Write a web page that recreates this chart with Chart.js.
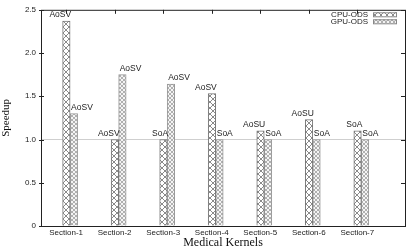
<!DOCTYPE html>
<html>
<head>
<meta charset="utf-8">
<script src="https://cdn.jsdelivr.net/npm/chart.js@4"></script>
<style>
  html, body { margin: 0; padding: 0; background: #fff; }
  #wrap { width: 415px; height: 249px; }
</style>
</head>
<body>
<div id="wrap"><canvas id="speedChart" width="415" height="249"></canvas></div>
<script>
const sections = ['Section-1', 'Section-2', 'Section-3', 'Section-4', 'Section-5', 'Section-6', 'Section-7'];
const cpuSpeedup = [2.37, 1.0, 1.0, 1.53, 1.1, 1.23, 1.1];
const gpuSpeedup = [1.3, 1.75, 1.64, 1.0, 1.0, 1.0, 1.0];
const cpuLayout = ['AoSV', 'AoSV', 'SoA', 'AoSV', 'AoSU', 'AoSU', 'SoA'];
const gpuLayout = ['AoSV', 'AoSV', 'AoSV', 'SoA', 'SoA', 'SoA', 'SoA'];
const yTicks = [0, 0.5, 1, 1.5, 2, 2.5];

const LABEL_SHIFT = -4; // tick labels sit a little left of the bar pairs

// hatch patterns, roughly like the gnuplot fill styles
function makeHatch(size, color, bg) {
    const c = document.createElement('canvas');
    c.width = size; c.height = size;
    const g = c.getContext('2d');
    g.fillStyle = bg;
    g.fillRect(0, 0, size, size);
    g.strokeStyle = color;
    g.lineWidth = 1;
    g.beginPath();
    g.moveTo(0, 0); g.lineTo(size, size);
    g.moveTo(size, 0); g.lineTo(0, size);
    g.stroke();
    return g.createPattern(c, 'repeat');
}
const ctx = document.getElementById('speedChart').getContext('2d');
const cpuFill = makeHatch(6, '#8a8a8a', '#ffffff');
const gpuFill = makeHatch(4, '#b0b0b0', '#f4f4f4');

const toPoints = arr => arr.map((v, i) => ({ x: i, y: v }));

const frame = {
    id: 'frame',
    afterDraw(chart) {
        const { ctx, chartArea: a, scales } = chart;
        ctx.save();
        ctx.strokeStyle = '#222';
        ctx.lineWidth = 1;
        ctx.strokeRect(a.left + 0.5, a.top + 0.5, a.right - a.left, a.bottom - a.top);
        ctx.beginPath();
        // top ticks at category label positions
        sections.forEach((_, i) => {
            const px = Math.round(scales.x.getPixelForValue(i) + LABEL_SHIFT) + 0.5;
            ctx.moveTo(px, a.top); ctx.lineTo(px, a.top + 4);
        });
        // left/right ticks
        yTicks.forEach(v => {
            const py = Math.round(scales.y.getPixelForValue(v)) + 0.5;
            ctx.moveTo(a.left - 2, py); ctx.lineTo(a.left + 3, py);
            ctx.moveTo(a.right - 4, py); ctx.lineTo(a.right, py);
        });
        ctx.stroke();

        // legend, top right inside the plot
        ctx.font = '8px "Liberation Sans", Arial, sans-serif';
        ctx.fillStyle = '#222';
        ctx.textAlign = 'right';
        ctx.textBaseline = 'middle';
        chart.data.datasets.forEach((ds, k) => {
            const y = a.top + 4.5 + k * 7;
            ctx.fillText(ds.label, a.right - 37, y);
            ctx.fillStyle = ds.backgroundColor;
            ctx.fillRect(a.right - 32, y - 2, 24, 4);
            ctx.strokeStyle = '#888';
            ctx.strokeRect(a.right - 31.5, y - 1.5, 23, 4);
            ctx.fillStyle = '#222';
        });
        ctx.restore();
    }
};

const barLabels = {
    id: 'barLabels',
    afterDatasetsDraw(chart) {
        const { ctx } = chart;
        ctx.save();
        ctx.font = '8.5px "Liberation Sans", Arial, sans-serif';
        ctx.fillStyle = '#222';
        ctx.textBaseline = 'bottom';
        const names = [cpuLayout, gpuLayout];
        chart.data.datasets.forEach((ds, k) => {
            chart.getDatasetMeta(k).data.forEach((bar, i) => {
                const half = bar.width / 2;
                if (k === 0) {
                    ctx.textAlign = 'right';
                    ctx.fillText(names[k][i], bar.x + half + 1, bar.y - 2);
                } else {
                    ctx.textAlign = 'left';
                    ctx.fillText(names[k][i], bar.x - half + 1, bar.y - 2);
                }
            });
        });
        ctx.restore();
    }
};

new Chart(ctx, {
    type: 'bar',
    data: {
        datasets: [
            {
                label: 'CPU-ODS',
                data: toPoints(cpuSpeedup),
                backgroundColor: cpuFill,
                borderColor: '#777',
                borderWidth: 1,
                barThickness: 7.5
            },
            {
                label: 'GPU-ODS',
                data: toPoints(gpuSpeedup),
                backgroundColor: gpuFill,
                borderColor: '#999',
                borderWidth: 1,
                barThickness: 7.5
            }
        ]
    },
    options: {
        responsive: false,
        animation: false,
        devicePixelRatio: 1,
        layout: { padding: { top: 8, right: 10, left: 0, bottom: 0 } },
        plugins: {
            legend: { display: false },
            tooltip: { enabled: false }
        },
        scales: {
            x: {
                type: 'linear',
                offset: false,
                min: -0.6,
                max: 6.9,
                afterBuildTicks: scale => { scale.ticks = sections.map((_, i) => ({ value: i })); },
                afterFit: scale => { scale.height = 23; },
                grid: { display: false, drawTicks: false, offset: false },
                border: { display: false },
                ticks: {
                    callback: v => sections[v],
                    labelOffset: LABEL_SHIFT,
                    padding: 2,
                    maxRotation: 0,
                    autoSkip: false,
                    color: '#222',
                    font: { family: '"Liberation Sans", Arial, sans-serif', size: 8 }
                },
                title: {
                    display: true,
                    text: 'Medical Kernels',
                    color: '#111',
                    padding: 0,
                    font: { family: '"Liberation Serif", "Times New Roman", serif', size: 12, lineHeight: 1 }
                }
            },
            y: {
                min: 0,
                max: 2.5,
                afterBuildTicks: scale => { scale.ticks = yTicks.map(v => ({ value: v })); },
                afterFit: scale => { scale.width = 41; },
                grid: {
                    drawTicks: false,
                    color: c => (c.tick && c.tick.value === 1 ? '#cfcfcf' : 'rgba(0,0,0,0)')
                },
                border: { display: false },
                ticks: {
                    padding: 5,
                    color: '#222',
                    font: { family: '"Liberation Sans", Arial, sans-serif', size: 8 }
                },
                title: {
                    display: true,
                    text: 'Speedup',
                    color: '#111',
                    padding: 0,
                    font: { family: '"Liberation Serif", "Times New Roman", serif', size: 11 }
                }
            }
        }
    },
    plugins: [frame, barLabels]
});
</script>
</body>
</html>
